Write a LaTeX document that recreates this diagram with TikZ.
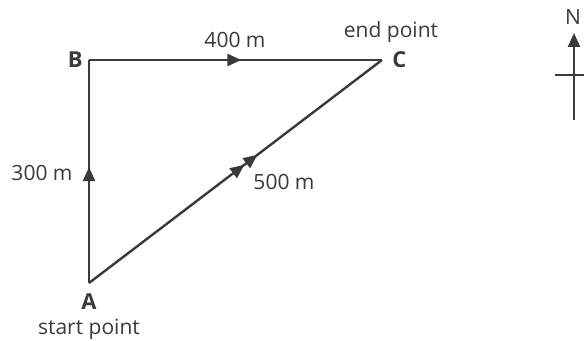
\documentclass[tikz,border=0pt]{standalone}
\usepackage{fontspec}
\setmainfont{Open Sans}
\usetikzlibrary{positioning,arrows.meta,decorations.markings}
\definecolor{PathGrey}{RGB}{58,58,58}

\tikzset{
  walk/.style={draw=PathGrey, line width=1.2pt},
  midarrow/.style={postaction={decorate, decoration={markings,
      mark=at position #1 with {\arrow{Triangle[length=7pt,width=6pt]}}}}},
  pointlabel/.style={font=\fontsize{11}{13}\selectfont\bfseries, inner sep=1pt},
}

\begin{document}
\begin{tikzpicture}[x=0.5pt,y=-0.5pt, every node/.style={font=\fontsize{10.5}{12}\selectfont, text=PathGrey, align=center}]
  \useasboundingbox (0,0) rectangle (584,341);
  \coordinate (A) at (89,283);
  \coordinate (B) at (89,60);
  \coordinate (C) at (382,60);

  \node[pointlabel, left=2pt of B] (labB) {B};
  \node[pointlabel, right=4pt of C] (labC) {C};
  \node[pointlabel, below=4pt of A] (labA) {A};
  \node[below=0pt of labA] (start) {start point};
  \node (finish) at (391,32) {end point};

  \draw[walk, midarrow=0.52] (A) -- (B);
  \draw[walk, midarrow=0.52] (B) -- (C);
  \draw[walk, midarrow=0.53, midarrow=0.575] (A) -- (C);

  \node (dAB) at (42,173) {300 m};
  \node (dBC) at (235,40) {400 m};
  \node (dAC) at (284,182) {500 m};

  % north marker
  \coordinate (nbase) at (574,120);
  \coordinate (ntip) at (574,33);
  \node[inner sep=1pt] (north) at (573,17) {N};
  \draw[walk, -{Triangle[length=7pt,width=6pt]}] (nbase) -- (ntip);
  \draw[walk] (555,75) -- (586,75);
\end{tikzpicture}
\end{document}
